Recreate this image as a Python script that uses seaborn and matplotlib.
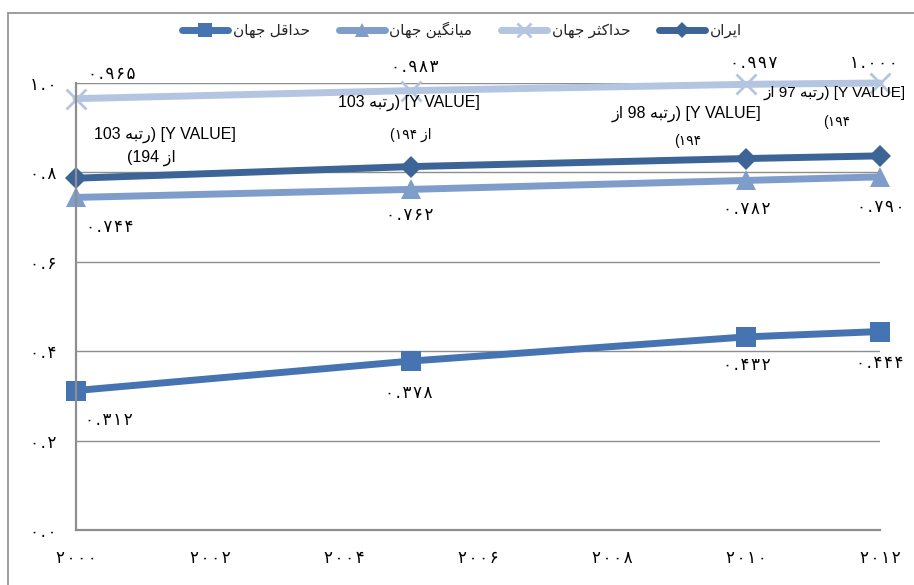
import numpy as np
import pandas as pd
import matplotlib
matplotlib.use("Agg")
import matplotlib.pyplot as plt
from matplotlib.lines import Line2D
import seaborn as sns

# ---------------- data ----------------
years = [2000, 2005, 2010, 2012]
min_vals = [0.312, 0.378, 0.432, 0.444]
mean_vals = [0.744, 0.762, 0.782, 0.790]
max_vals = [0.965, 0.983, 0.997, 1.000]
iran_vals = [0.787, 0.813, 0.831, 0.837]
series_names = ["حداقل جهان", "میانگین جهان", "حداکثر جهان", "ایران"]
iran_ranks = [103, 103, 98, 97]
iran_total = 194
x_ticks = [2000, 2002, 2004, 2006, 2008, 2010, 2012]
y_ticks = [0.0, 0.2, 0.4, 0.6, 0.8, 1.0]

# ---------------- Persian text helpers ----------------
FORMS = {
    '\u0627': ('\uFE8D', '\uFE8E', None, None),
    '\u0628': ('\uFE8F', '\uFE90', '\uFE91', '\uFE92'),
    '\u062A': ('\uFE95', '\uFE96', '\uFE97', '\uFE98'),
    '\u062B': ('\uFE99', '\uFE9A', '\uFE9B', '\uFE9C'),
    '\u062C': ('\uFE9D', '\uFE9E', '\uFE9F', '\uFEA0'),
    '\u062D': ('\uFEA1', '\uFEA2', '\uFEA3', '\uFEA4'),
    '\u062F': ('\uFEA9', '\uFEAA', None, None),
    '\u0631': ('\uFEAD', '\uFEAE', None, None),
    '\u0632': ('\uFEAF', '\uFEB0', None, None),
    '\u0642': ('\uFED5', '\uFED6', '\uFED7', '\uFED8'),
    '\u0643': ('\uFED9', '\uFEDA', '\uFEDB', '\uFEDC'),
    '\u0644': ('\uFEDD', '\uFEDE', '\uFEDF', '\uFEE0'),
    '\u0645': ('\uFEE1', '\uFEE2', '\uFEE3', '\uFEE4'),
    '\u0646': ('\uFEE5', '\uFEE6', '\uFEE7', '\uFEE8'),
    '\u0647': ('\uFEE9', '\uFEEA', '\uFEEB', '\uFEEC'),
    '\u064A': ('\uFEF1', '\uFEF2', '\uFEF3', '\uFEF4'),
    '\u06CC': ('\uFBFC', '\uFBFD', '\uFBFE', '\uFBFF'),
    '\u06A9': ('\uFB8E', '\uFB8F', '\uFB90', '\uFB91'),
    '\u06AF': ('\uFB92', '\uFB93', '\uFB94', '\uFB95'),
}


def shape(word):
    out = []
    n = len(word)
    for i, c in enumerate(word):
        if c not in FORMS:
            out.append(c)
            continue
        iso, fin, ini, med = FORMS[c]
        prev = word[i - 1] if i > 0 else None
        nxt = word[i + 1] if i < n - 1 else None
        jp = prev in FORMS and FORMS[prev][2] is not None
        jn = nxt in FORMS and ini is not None
        if jp and jn:
            out.append(med)
        elif jp:
            out.append(fin)
        elif jn:
            out.append(ini)
        else:
            out.append(iso)
    return ''.join(out)


def fa(text):
    return shape(text)[::-1]


def pdig(s, spaced=False):
    t = s.translate(str.maketrans('0123456789', '۰۱۲۳۴۵۶۷۸۹'))
    if spaced:
        t = '\u200a'.join(t)
    return t


# ---------------- figure ----------------
sns.set_style("white")
plt.rcParams['font.family'] = ['Liberation Sans', 'DejaVu Sans']

W, H = 914, 585
fig = plt.figure(figsize=(W / 100, H / 100), dpi=100)
L, R, T, B = 76, 880, 83, 530
ax = fig.add_axes([L / W, 1 - B / H, (R - L) / W, (B - T) / H])

colors = ["#4673B1", "#7F9DCB", "#B4C5E1", "#3D6497"]
markers = ["s", "^", "x", "D"]
msizes = [14, 14, 14, 11]
all_vals = [min_vals, mean_vals, max_vals, iran_vals]

for vals, name, col, mk, ms in zip(all_vals, series_names, colors, markers, msizes):
    kw = dict(marker=mk, markersize=ms, color=col, linewidth=5,
              label=fa(name), ax=ax, clip_on=False)
    if mk == "x":
        kw.update(markeredgewidth=2.0, markeredgecolor=col)
    else:
        kw.update(markeredgewidth=0, markerfacecolor=col)
    sns.lineplot(x=years, y=vals, **kw)

ax.set_xlim(2000, 2012)
ax.set_ylim(0, 1.0)
ax.set_xticks(x_ticks)
ax.set_xticklabels([pdig(str(v), True) for v in x_ticks], family='DejaVu Sans', fontsize=12)
ax.set_yticks(y_ticks)
ax.set_yticklabels([pdig(f"{v:.1f}", True) for v in y_ticks], family='DejaVu Sans', fontsize=12)
ax.yaxis.grid(True, color="#8e8e8e", linewidth=1)
ax.xaxis.grid(False)
ax.set_axisbelow(True)
for s in ["top", "right"]:
    ax.spines[s].set_visible(False)
for s in ["left", "bottom"]:
    ax.spines[s].set_color("#8e8e8e")
    ax.spines[s].set_linewidth(1.6)
ax.tick_params(axis='both', direction='out', length=4, width=1, color="#8e8e8e",
               labelcolor="black", pad=10)
ax.set_xlabel("")
ax.set_ylabel("")

# value labels (offsets in pixels)
px = 0.72
def vlabel(x, y, txt, dx, dy):
    ax.annotate(pdig(txt, True), (x, y), xytext=(dx * px, dy * px), textcoords='offset points',
                ha='center', va='center', fontsize=12, family='DejaVu Sans', color='black')

max_off = [(36, 25), (4, 24), (8, 21), (-6, 20)]
mean_off = [(34, -30), (-1, -26), (1, -29), (1, -30)]
min_off = [(33, -29), (-2, -32), (1, -28), (0, -31)]
for i, yr in enumerate(years):
    vlabel(yr, max_vals[i], f"{max_vals[i]:.3f}", *max_off[i])
    vlabel(yr, mean_vals[i], f"{mean_vals[i]:.3f}", *mean_off[i])
    vlabel(yr, min_vals[i], f"{min_vals[i]:.3f}", *min_off[i])

# Iran labels
rank_w = fa("رتبه")
az = fa("از")
line1 = [f"{iran_ranks[0]} {rank_w}) [Y VALUE]",
         f"{iran_ranks[1]} {rank_w}) [Y VALUE]",
         f"{az} {iran_ranks[2]} {rank_w}) [Y VALUE]",
         f"{az} {iran_ranks[3]} {rank_w}) [Y VALUE]"]
line2 = [f"({iran_total} {az}",
         f"({pdig(str(iran_total))} {az}",
         f"({pdig(str(iran_total))}",
         f"({pdig(str(iran_total))}"]
l1_off = [(89, 43), (-2, 64), (-59, 45), (-45, 63)]
l2_off = [(75, 20), (0, 32), (-58, 18), (-43, 34)]
l1_size = [11.5, 11.5, 11.5, 11]
l2_size = [11.5, 10, 10, 10]
for i, yr in enumerate(years):
    ax.annotate(line1[i], (yr, iran_vals[i]), xytext=(l1_off[i][0] * px, l1_off[i][1] * px),
                textcoords='offset points', ha='center', va='center', fontsize=l1_size[i],
                color='black', annotation_clip=False)
    ax.annotate(line2[i], (yr, iran_vals[i]), xytext=(l2_off[i][0] * px, l2_off[i][1] * px),
                textcoords='offset points', ha='center', va='center', fontsize=l2_size[i],
                color='black', annotation_clip=False)

# legend
handles, labels = ax.get_legend_handles_labels()
leg = ax.legend(handles, labels, loc='center', bbox_to_anchor=(462 / W, 1 - 30 / H),
                bbox_transform=fig.transFigure, ncol=4, frameon=False, fontsize=11,
                handlelength=3.0, columnspacing=1.9, handletextpad=0.3, markerscale=0.7)

# chart border (Excel chart area)
fig.add_artist(Line2D([8 / W, 8 / W], [0, 1 - 13 / H], color="#8e8e8e", lw=1.2,
                      transform=fig.transFigure))
fig.add_artist(Line2D([8 / W, 1], [1 - 13 / H, 1 - 13 / H], color="#8e8e8e", lw=1.2,
                      transform=fig.transFigure))

fig.savefig("out.png", dpi=100)
